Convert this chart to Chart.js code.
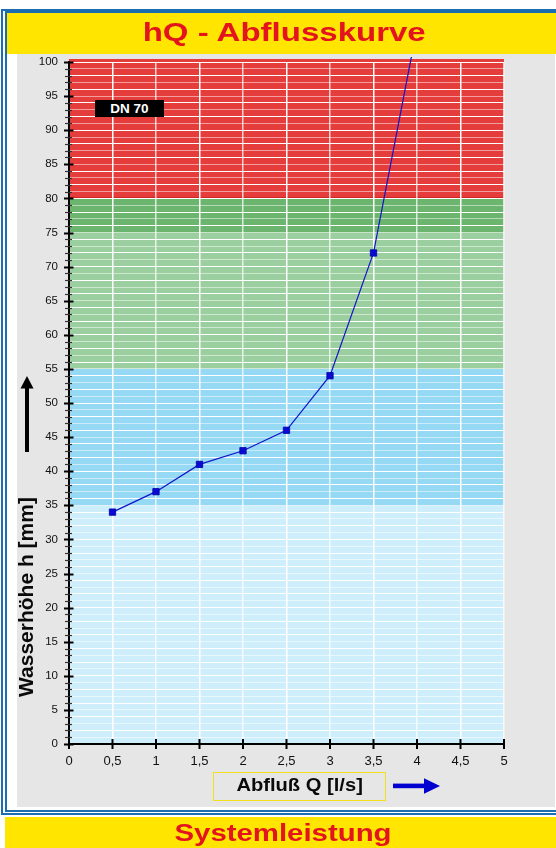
<!DOCTYPE html>
<html><head><meta charset="utf-8">
<script src="https://cdn.jsdelivr.net/npm/chart.js@4/dist/chart.umd.min.js"></script>
<style>
html,body{margin:0;padding:0;width:556px;height:848px;overflow:hidden;background:#fff;font-family:"Liberation Sans",Arial,sans-serif;}
.abs{position:absolute;box-sizing:border-box;}
.ctr{text-align:center;white-space:nowrap;}
.ctr span{display:inline-block;}
</style></head><body>
<div class="abs" style="left:1px;top:9px;width:600px;height:806px;border:2px solid #1a6db0;"></div>
<div class="abs" style="left:5px;top:11px;width:600px;height:800.5px;border:2px solid #1a6db0;"></div>
<div class="abs" style="left:7px;top:12.5px;width:560px;height:41.5px;background:#ffe500;"></div>
<div class="abs" style="left:17px;top:54px;width:538px;height:753px;background:#e6e6e6;"></div>
<div class="abs" style="left:5px;top:816.5px;width:560px;height:32px;background:#ffe500;"></div>

<canvas id="c" width="556" height="848" style="position:absolute;left:0;top:0;width:556px;height:848px;"></canvas>

<div class="abs ctr" style="left:84.5px;top:20px;width:400px;height:25px;line-height:25px;font-size:25px;font-weight:bold;color:#e3141e;"><span style="transform:scaleX(1.32);">hQ - Abflusskurve</span></div>
<div class="abs ctr" style="left:82.5px;top:822px;width:400px;height:23px;line-height:23px;font-size:23px;font-weight:bold;color:#e3141e;"><span style="transform:scaleX(1.277);">Systemleistung</span></div>

<div class="abs ctr" style="left:95px;top:100px;width:69px;height:17px;line-height:17px;background:#000;color:#fff;font-size:13.5px;font-weight:bold;">DN 70</div>

<div class="abs ctr" style="left:-84px;top:585px;width:220px;height:24px;line-height:24px;font-size:21px;font-weight:bold;color:#0a0a0a;transform:rotate(-90deg);">Wasserhöhe h [mm]</div>
<svg class="abs" style="left:20px;top:375px;" width="14" height="78" viewBox="0 0 14 78"><polygon points="0.5,13.5 7,1 13.5,13.5" fill="#000"/><rect x="5" y="12" width="4" height="65" fill="#000"/></svg>

<div class="abs ctr" style="left:213px;top:772px;width:173px;height:29px;border:1.5px solid #f2e01c;font-size:19px;font-weight:bold;color:#0a0a0a;line-height:23px;"><span style="transform:scaleX(1.06);">Abfluß Q [l/s]</span></div>
<svg class="abs" style="left:393px;top:778px;" width="48" height="16" viewBox="0 0 48 16"><rect x="0" y="5.6" width="32" height="4.6" fill="#0000d0"/><polygon points="31,0.3 47,8 31,15.7" fill="#0000d0"/></svg>

<script>
// ---- data ----
const flowQ = [0.5, 1, 1.5, 2, 2.5, 3, 3.5, 4];
const heightH = [34, 37, 41, 43, 46, 54, 72, 105];
const xTickValues = [0, 0.5, 1, 1.5, 2, 2.5, 3, 3.5, 4, 4.5, 5];
const bandLower = [0, 35, 55, 75, 80];
const bandUpper = [35, 55, 75, 80, 100];
const bandColors = ['#cdeefa', '#95d9f5', '#9ccf9f', '#6cb56f', '#e53c3c'];

const bandsPlugin = {
  id: 'bands',
  beforeDraw(chart) {
    const {ctx, chartArea: a, scales: {y}} = chart;
    ctx.save();
    bandLower.forEach((lo, i) => {
      let top = y.getPixelForValue(bandUpper[i]);
      const bot = y.getPixelForValue(lo);
      if (bandUpper[i] >= 100) top -= 3;
      ctx.fillStyle = bandColors[i];
      ctx.fillRect(a.left, top, a.right - a.left, bot - top);
    });
    ctx.strokeStyle = '#cc1c1c';
    ctx.lineWidth = 1.5;
    const y80 = y.getPixelForValue(80);
    ctx.beginPath(); ctx.moveTo(a.left, y80 - 0.5); ctx.lineTo(a.right, y80 - 0.5); ctx.stroke();
    ctx.restore();
  }
};

const tickMarks = {
  id: 'tickMarks',
  afterDraw(chart) {
    const {ctx, scales: {x, y}} = chart;
    ctx.save();
    const ax = x.getPixelForValue(0);
    for (let v = 0; v <= 100; v++) {
      const py = Math.round(y.getPixelForValue(v)) + 0.5;
      const major = v % 5 === 0;
      ctx.strokeStyle = major ? '#000' : '#333';
      ctx.lineWidth = major ? 2 : 1.2;
      ctx.beginPath();
      ctx.moveTo(ax - (major ? 5 : 4), py);
      ctx.lineTo(ax + (major ? 4.5 : 3), py);
      ctx.stroke();
    }
    const ay = y.getPixelForValue(0);
    xTickValues.forEach(v => {
      const px = x.getPixelForValue(v);
      ctx.strokeStyle = '#000';
      ctx.lineWidth = 2;
      ctx.beginPath();
      ctx.moveTo(px, ay - 5);
      ctx.lineTo(px, ay + 5);
      ctx.stroke();
    });
    ctx.restore();
  }
};

new Chart(document.getElementById('c'), {
  type: 'line',
  data: {
    datasets: [{
      data: flowQ.map((q, i) => ({x: q, y: heightH[i]})),
      borderColor: '#1414c8',
      borderWidth: 1.2,
      tension: 0,
      pointStyle: 'rect',
      pointRadius: 4.5,
      pointBackgroundColor: '#0a0ad2',
      pointBorderColor: '#0000a8',
      pointBorderWidth: 0.8,
      clip: {left: 5, top: 5, right: 5, bottom: 5}
    }]
  },
  plugins: [bandsPlugin, tickMarks],
  options: {
    responsive: false,
    animation: false,
    events: [],
    layout: {padding: {left: 0, top: 62, right: 52, bottom: 0}},
    plugins: {legend: {display: false}, tooltip: {enabled: false}},
    scales: {
      x: {
        type: 'linear', min: 0, max: 5,
        afterFit: s => { s.height = 104; },
        afterBuildTicks: s => { s.ticks = xTickValues.map(v => ({value: v})); },
        ticks: {
          autoSkip: false, maxRotation: 0, padding: 10,
          color: '#111',
          font: {family: 'Liberation Sans', size: 13},
          callback: v => String(v).replace('.', ',')
        },
        grid: {
          drawTicks: false,
          lineWidth: 1.5,
          color: c => (c.tick && c.tick.value === 0) ? 'rgba(0,0,0,0)' :
            (c.tick && Number.isInteger(c.tick.value) ? 'rgba(255,255,255,0.75)' : '#ffffff')
        },
        border: {display: true, color: '#000', width: 2}
      },
      y: {
        type: 'linear', min: 0, max: 100,
        afterFit: s => { s.width = 69; },
        ticks: {
          stepSize: 1, autoSkip: false, padding: 11,
          color: '#111',
          font: {family: 'Liberation Sans', size: 11.5},
          callback: v => (v % 5 === 0 ? String(v) : '')
        },
        grid: {
          drawTicks: false,
          lineWidth: 1,
          color: c => (c.tick && c.tick.value === 0) ? 'rgba(0,0,0,0)' :
            (c.tick && c.tick.value % 2 === 0 ? '#ffffff' : 'rgba(255,255,255,0.5)')
        },
        border: {display: true, color: '#000', width: 2}
      }
    }
  }
});
</script>
</body></html>
